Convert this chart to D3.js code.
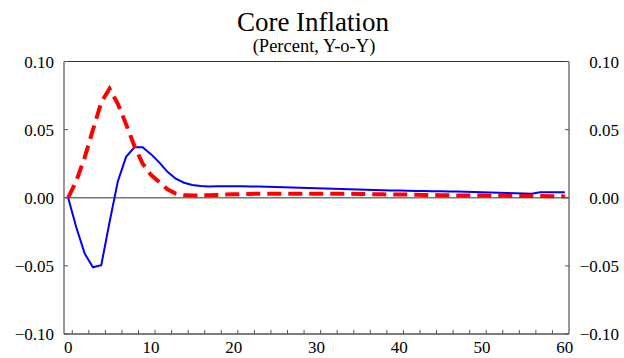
<!DOCTYPE html>
<html>
<head>
<meta charset="utf-8">
<script src="https://cdn.jsdelivr.net/npm/d3@7"></script>
<style>
  body { margin: 0; background: #fff; }
  text { font-family: "Liberation Serif", "Times New Roman", serif; }
</style>
</head>
<body>
<svg id="chart" width="624" height="358"></svg>
<script>
// periods 0..60
var periods = d3.range(0, 61);

var blueVals = [0, -0.022, -0.041, -0.051, -0.0495, -0.018, 0.012, 0.030, 0.037, 0.037,
  0.032, 0.026, 0.019, 0.014, 0.011, 0.0094, 0.0086, 0.0083, 0.0084, 0.0085,
  0.0085, 0.0084, 0.0083, 0.0082, 0.0080, 0.0079, 0.0077, 0.0075, 0.0073, 0.0071,
  0.0069, 0.0067, 0.0066, 0.0065, 0.0063, 0.0061, 0.0059, 0.0057, 0.0055, 0.0054,
  0.0053, 0.0052, 0.0050, 0.0049, 0.0048, 0.0047, 0.0046, 0.0045, 0.0044, 0.0042,
  0.0041, 0.0039, 0.0037, 0.0035, 0.0033, 0.0031, 0.0030, 0.0040, 0.0041, 0.0041, 0.0041];

var redVals = [0, 0.0125, 0.0296, 0.050, 0.070, 0.080, 0.069, 0.054, 0.038, 0.025,
  0.0168, 0.0116, 0.0062, 0.0031, 0.0020, 0.0016, 0.0017, 0.0019, 0.0021, 0.0023,
  0.0025, 0.0027, 0.0028, 0.0029, 0.0030, 0.0030, 0.0030, 0.0030, 0.0030, 0.0030,
  0.0030, 0.0030, 0.0030, 0.0029, 0.0029, 0.0028, 0.0027, 0.0026, 0.0025, 0.0024,
  0.0024, 0.0023, 0.0022, 0.0021, 0.0020, 0.0019, 0.0018, 0.0017, 0.0017, 0.0016,
  0.0016, 0.0015, 0.0015, 0.0014, 0.0013, 0.0013, 0.0012, 0.0012, 0.0011, 0.0011, 0.0010];

var yTicks = [0.10, 0.05, 0.00, -0.05, -0.10];
var xLabels = [0, 10, 20, 30, 40, 50, 60];
var xMinor = d3.range(1, 60, 2);

var svg = d3.select("#chart");

var pLeft = 64, pRight = 569, pTop = 61.5, pBottom = 334;

var x = d3.scaleLinear().domain([-0.5, 60.5]).range([pLeft, pRight]);
var y = d3.scaleLinear().domain([-0.10, 0.10]).range([pBottom, pTop]);
var fY = d3.format(".2f");

// title
svg.append("text").attr("x", 313).attr("y", 31).attr("text-anchor", "middle")
  .style("font-size", "27px").style("fill", "#000").text("Core Inflation");
svg.append("text").attr("x", 314).attr("y", 52).attr("text-anchor", "middle")
  .style("font-size", "18.5px").style("fill", "#000").text("(Percent, Y-o-Y)");

// zero line
svg.append("line").attr("x1", pLeft).attr("x2", pRight).attr("y1", y(0)).attr("y2", y(0))
  .style("stroke", "#777").style("stroke-width", 1.5);

// frame
svg.append("line").attr("x1", pLeft).attr("x2", pRight).attr("y1", pTop).attr("y2", pTop)
  .style("stroke", "#333").style("stroke-width", 1);
svg.append("line").attr("x1", pRight).attr("x2", pRight).attr("y1", pTop).attr("y2", pBottom)
  .style("stroke", "#333").style("stroke-width", 1);
svg.append("line").attr("x1", pLeft).attr("x2", pLeft).attr("y1", pTop).attr("y2", pBottom)
  .style("stroke", "#777").style("stroke-width", 1.5);
svg.append("line").attr("x1", pLeft).attr("x2", pRight).attr("y1", pBottom).attr("y2", pBottom)
  .style("stroke", "#555").style("stroke-width", 1.5);

// y ticks both sides
svg.selectAll(".ytl").data(yTicks).enter().append("line")
  .attr("x1", pLeft).attr("x2", pLeft + 4).attr("y1", d => y(d)).attr("y2", d => y(d))
  .style("stroke", "#555").style("stroke-width", 1);
svg.selectAll(".ytr").data(yTicks).enter().append("line")
  .attr("x1", pRight - 4).attr("x2", pRight).attr("y1", d => y(d)).attr("y2", d => y(d))
  .style("stroke", "#555").style("stroke-width", 1);

svg.selectAll(".ylabL").data(yTicks).enter().append("text")
  .attr("x", 54).attr("y", d => y(d) + 6).attr("text-anchor", "end")
  .style("font-size", "17px").style("fill", "#000").text(d => fY(d));
svg.selectAll(".ylabR").data(yTicks).enter().append("text")
  .attr("x", 619).attr("y", d => y(d) + 6).attr("text-anchor", "end")
  .style("font-size", "17px").style("fill", "#000").text(d => fY(d));

// x ticks
svg.selectAll(".xt").data(xMinor).enter().append("line")
  .attr("x1", d => x(d - 0.5)).attr("x2", d => x(d - 0.5)).attr("y1", pBottom).attr("y2", pBottom - 4)
  .style("stroke", "#555").style("stroke-width", 1);
svg.selectAll(".xlab").data(xLabels).enter().append("text")
  .attr("x", d => x(d)).attr("y", 353).attr("text-anchor", "middle")
  .style("font-size", "17px").style("fill", "#000").text(d => d);

var line = d3.line().x((d, i) => x(periods[i])).y(d => y(d)).curve(d3.curveLinear);

svg.append("path").datum(blueVals).attr("d", line)
  .style("fill", "none").style("stroke", "#0000ff").style("stroke-width", 2);
svg.append("path").datum(redVals).attr("d", line)
  .style("fill", "none").style("stroke", "#ff0000").style("stroke-width", 4)
  .style("stroke-dasharray", "14,7");
</script>
</body>
</html>
